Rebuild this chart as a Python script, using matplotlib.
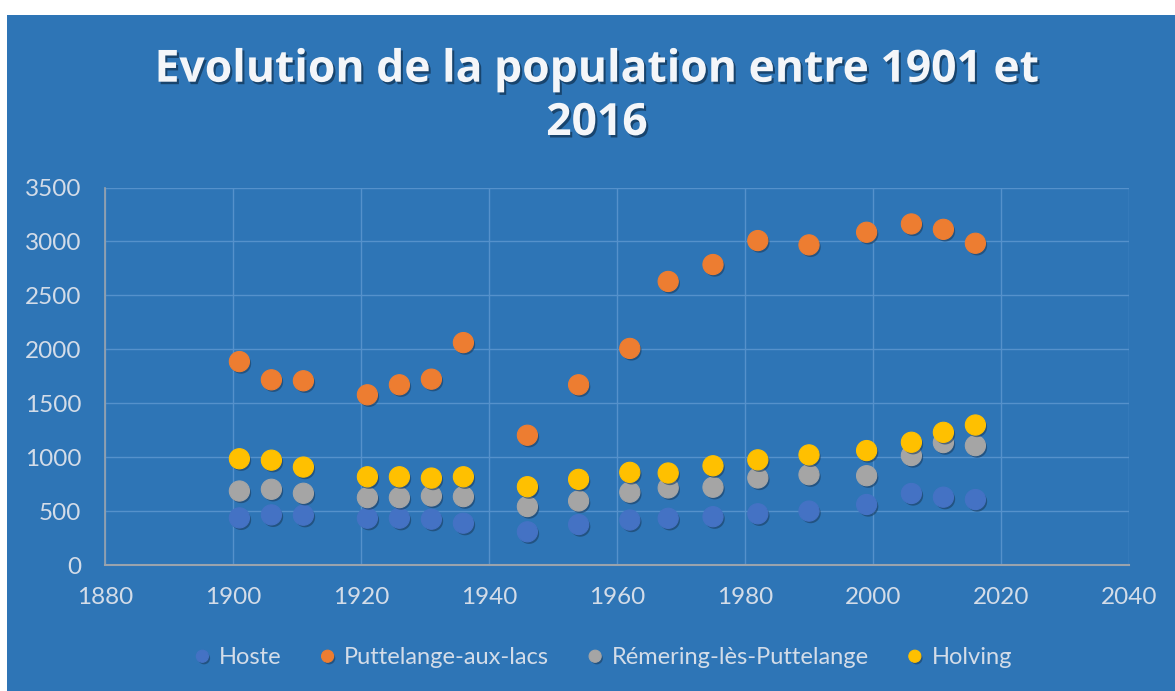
import matplotlib
matplotlib.use("Agg")
import matplotlib.pyplot as plt
import matplotlib.patheffects as pe
from matplotlib.patches import Rectangle

years = [1901, 1906, 1911, 1921, 1926, 1931, 1936, 1946, 1954,
         1962, 1968, 1975, 1982, 1990, 1999, 2006, 2011, 2016]
hoste = [437, 465, 462, 434, 434, 425, 388, 308, 375,
         417, 433, 448, 475, 500, 561, 663, 629, 607]
puttelange = [1886, 1717, 1708, 1578, 1671, 1723, 2062, 1203, 1671,
              2008, 2629, 2786, 3008, 2968, 3085, 3162, 3112, 2983]
remering = [686, 702, 665, 625, 625, 640, 634, 542, 594,
            675, 715, 721, 807, 837, 828, 1015, 1135, 1107]
holving = [985, 972, 908, 818, 818, 806, 818, 726, 794,
           859, 853, 920, 975, 1021, 1061, 1138, 1230, 1298]

series = [
    ("Hoste", hoste, "#4472C4"),
    ("Puttelange-aux-lacs", puttelange, "#ED7D31"),
    ("Rémering-lès-Puttelange", remering, "#A5A5A5"),
    ("Holving", holving, "#FFC000"),
]

BG = "#2E75B6"
TXT = "#D3DCE8"
W, H = 1175, 691

fig = plt.figure(figsize=(W / 100, H / 100), dpi=100)
fig.patch.set_facecolor("white")
fig.add_artist(Rectangle((7 / W, 0), 1 - 7 / W, 1 - 15 / H,
                         transform=fig.transFigure, facecolor=BG,
                         edgecolor="none", zorder=-10))

ax = fig.add_axes([105 / W, 1 - 565 / H, 1024 / W, 377.5 / H])
ax.set_facecolor(BG)

shadow = [pe.SimplePatchShadow(offset=(1.2, -1.5), shadow_rgbFace="#1a3d60",
                               alpha=0.6), pe.Normal()]
for name, vals, col in series:
    ax.plot(years, vals, linestyle="none", marker="o", markersize=14.5,
            markerfacecolor=col, markeredgecolor=col, markeredgewidth=0.8,
            label=name, path_effects=shadow, zorder=3)

ax.set_xlim(1880, 2040)
ax.set_ylim(0, 3500)
ax.set_xticks(range(1880, 2041, 20))
ax.set_yticks(range(0, 3501, 500))
ax.grid(True, color="#5591CB", linewidth=1.0)
ax.set_axisbelow(True)
for s in ["top", "right"]:
    ax.spines[s].set_visible(False)
ax.spines["left"].set_color("#9AA3AD")
ax.spines["bottom"].set_color("#9AA3AD")
ax.spines["left"].set_linewidth(1.2)
ax.spines["bottom"].set_linewidth(1.5)
ax.tick_params(axis="both", length=0, labelcolor=TXT, labelsize=17.5)
ax.tick_params(axis="y", pad=17)
ax.tick_params(axis="x", pad=16)
for lab in ax.get_xticklabels() + ax.get_yticklabels():
    lab.set_family("Lato")

title_shadow = [pe.SimplePatchShadow(offset=(1.5, -1.8), shadow_rgbFace="#10304f",
                                     alpha=0.7), pe.Normal()]
fig.text(597 / W, 1 - 81.7 / H, "Evolution de la population entre 1901 et",
         ha="center", va="baseline", fontsize=32, fontweight="bold",
         family="Open Sans", color="#F4F6F9", path_effects=title_shadow)
fig.text(597 / W, 1 - 135 / H, "2016",
         ha="center", va="baseline", fontsize=32, fontweight="bold",
         family="Open Sans", color="#F4F6F9", path_effects=title_shadow)

leg = fig.legend(loc="center", bbox_to_anchor=(603 / W, 1 - 658 / H), ncol=4,
                 frameon=False, handlelength=0.7, handletextpad=0.35,
                 columnspacing=1.6, markerscale=0.6,
                 prop={"family": "Lato", "size": 17})
for t in leg.get_texts():
    t.set_color(TXT)

fig.savefig("out.png", dpi=100, facecolor=fig.get_facecolor())
